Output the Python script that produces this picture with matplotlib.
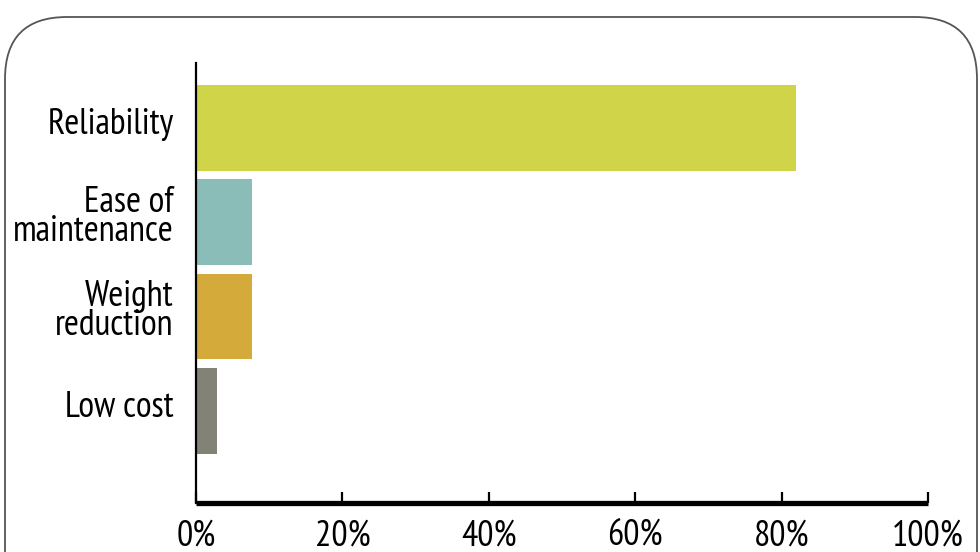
import matplotlib
matplotlib.use('Agg')
import matplotlib.pyplot as plt
from matplotlib.patches import FancyBboxPatch
from matplotlib.ticker import FuncFormatter
from matplotlib.transforms import ScaledTranslation

categorias = ['Reliability', 'Ease of\nmaintenance', 'Weight\nreduction', 'Low cost']
valores = [82, 7.6, 7.6, 2.9]
cores = ['#D0D448', '#8ABCB8', '#D4AA3A', '#828276']
ticks_x = [0, 20, 40, 60, 80, 100]

plt.rcParams['font.family'] = ['PT Sans Narrow', 'DejaVu Sans']

fig = plt.figure(figsize=(9.8, 5.52), dpi=100)

# moldura arredondada em coordenadas de pixel
fundo = fig.add_axes([0, 0, 1, 1])
fundo.set_xlim(0, 980)
fundo.set_ylim(552, 0)
fundo.axis('off')
moldura = FancyBboxPatch((5, 17), 972, 600, boxstyle='round,pad=0,rounding_size=62',
                         fill=False, edgecolor='#555555', linewidth=1.3)
fundo.add_patch(moldura)

ax = fig.add_axes([0.2, 0.0888, 0.747, 0.797])
y = list(range(len(categorias)))
ax.barh(y, valores, height=0.91, color=cores)

ax.set_xlim(0, 100)
ax.set_ylim(3.98, -0.69)
ax.set_xticks(ticks_x)
ax.xaxis.set_major_formatter(FuncFormatter(lambda v, p: f'{v:.0f}%'))
ax.set_yticks(y)
ax.set_yticklabels(categorias, linespacing=0.85)

for lado in ['top', 'right']:
    ax.spines[lado].set_visible(False)
ax.spines['left'].set_linewidth(1.6)
ax.spines['bottom'].set_linewidth(3.8)
ax.spines['bottom'].set_capstyle('butt')

ax.tick_params(axis='x', direction='in', length=8, width=1.6, pad=12, labelsize=26)
ax.tick_params(axis='y', length=0, pad=16, labelsize=26)
ax.patch.set_alpha(0)

# rótulos do eixo y um pouco acima do centro da barra
desloca = ScaledTranslation(0, 5 / 72, fig.dpi_scale_trans)
for rotulo in ax.get_yticklabels():
    rotulo.set_transform(rotulo.get_transform() + desloca)

plt.savefig('out.png', dpi=100)
